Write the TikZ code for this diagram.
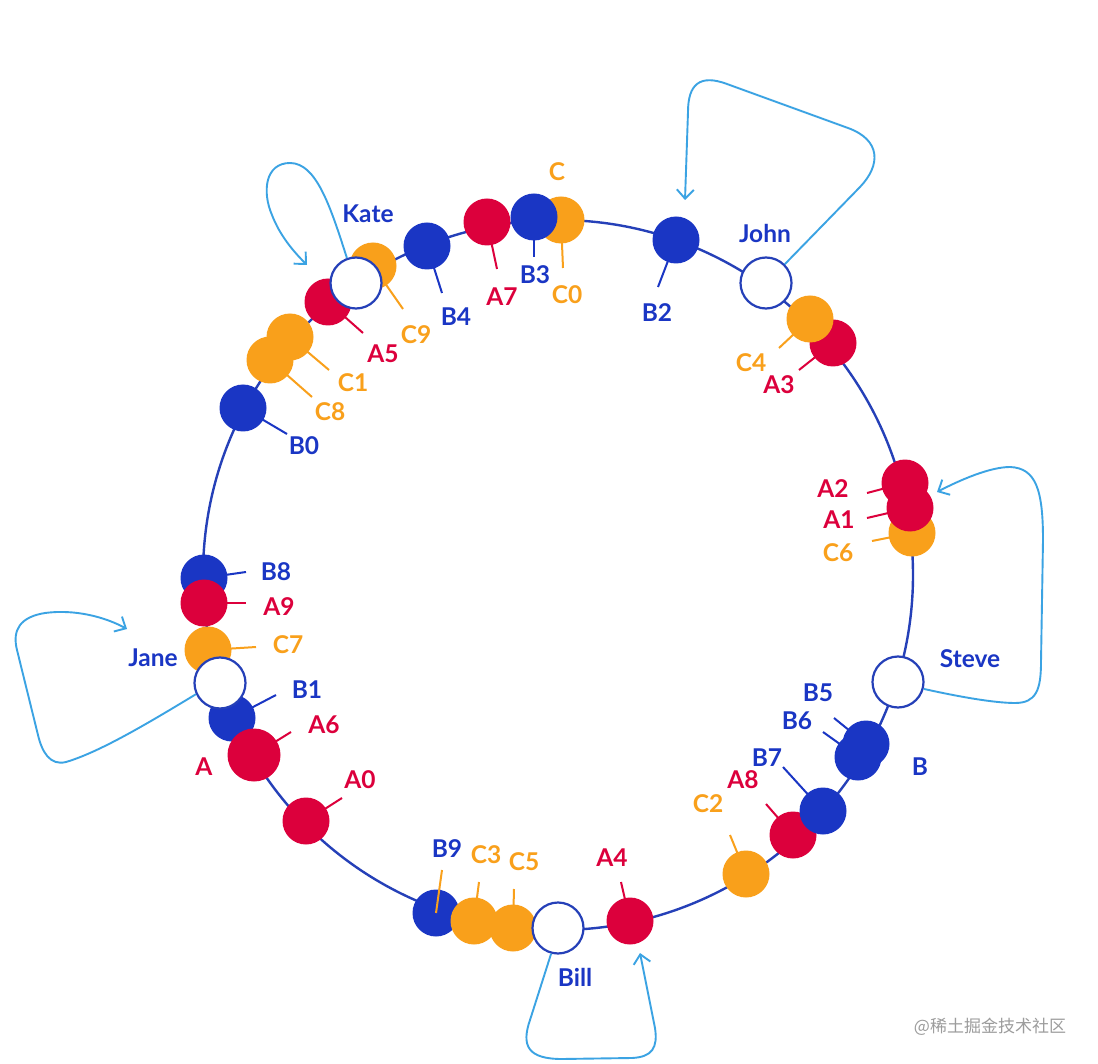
\documentclass[tikz,border=0pt]{standalone}
\usepackage{fontspec}
\setmainfont{Lato}
\newfontfamily\cjkfont{Noto Sans CJK SC}
\usetikzlibrary{arrows.meta,backgrounds}
\definecolor{dblue}{HTML}{1A36C4}
\definecolor{ringblue}{HTML}{2540B8}
\definecolor{dred}{HTML}{DC003C}
\definecolor{dorange}{HTML}{F9A01B}
\definecolor{lblue}{HTML}{3BA3E3}
\definecolor{wmgray}{HTML}{9C9C9C}
\begin{document}
\begin{tikzpicture}[x=1pt,y=-1pt,
  dot/.style={circle, minimum size=47pt, inner sep=0pt},
  bdot/.style={dot, fill=dblue},
  rdot/.style={dot, fill=dred},
  odot/.style={dot, fill=dorange},
  server/.style={circle, minimum size=51pt, inner sep=0pt, draw=ringblue, line width=2.2pt, fill=white},
  ring/.style={draw=ringblue, line width=2.4pt},
  btick/.style={draw=dblue, line width=2pt},
  rtick/.style={draw=dred, line width=2pt},
  otick/.style={draw=dorange, line width=2pt},
  lbl/.style={font=\fontsize{24.5}{27}\selectfont\bfseries, inner sep=0pt},
  blbl/.style={lbl, text=dblue},
  rlbl/.style={lbl, text=dred},
  olbl/.style={lbl, text=dorange},
  loopline/.style={draw=lblue, line width=1.9pt, -{Straight Barb[length=9pt,width=17pt]}}
]
\useasboundingbox (0,0) rectangle (1098,1064);

% ---------- dots (drawing order gives overlaps) ----------
\node[bdot] (B0) at (243,408) {};
\node[odot] (C8) at (270,360) {};
\node[odot] (C1) at (290,337) {};
\node[rdot] (A5) at (328,302) {};
\node[odot] (C9) at (373,266) {};
\node[server] (Kate) at (356,283) {};
\node[bdot] (B4) at (427,246) {};
\node[rdot] (A7) at (487,222) {};
\node[odot] (C0) at (561,220) {};
\node[bdot] (B3) at (534,217) {};
\node[bdot] (B2) at (676,240) {};
\node[server] (John) at (766,283) {};
\node[rdot] (A3) at (833,343) {};
\node[odot] (C4) at (810,319) {};
\node[odot] (C6) at (912,533) {};
\node[rdot] (A2) at (905,483) {};
\node[rdot] (A1) at (910,508) {};
\node[server] (Steve) at (898,682) {};
\node[bdot] (B6) at (858,757) {};
\node[bdot] (B5) at (866,744) {};
\node[odot] (C2) at (746,874) {};
\node[rdot] (A8) at (793,835) {};
\node[bdot] (B7) at (823,811) {};
\node[rdot] (A4) at (630,921) {};
\node[bdot] (B9) at (436,913) {};
\node[odot] (C3) at (474,921) {};
\node[odot] (C5) at (513,928) {};
\node[server] (Bill) at (558,928) {};
\node[rdot] (A0) at (306,821) {};
\node[bdot] (B1) at (232,718) {};
\node[rdot, minimum size=53pt] (A6) at (254,755) {};
\node[odot] (C7) at (208,650) {};
\node[server] (Jane) at (220,683) {};
\node[bdot] (B8) at (204,578) {};
\node[rdot] (A9) at (204,603) {};

% ---------- tick end points ----------
\coordinate (tB0) at (287,434);
\coordinate (tC8) at (312,397);
\coordinate (tC1) at (329,370);
\coordinate (tA5) at (363,333);
\coordinate (tC9) at (403,309);
\coordinate (tB4) at (442,293);
\coordinate (tA7) at (497,269);
\coordinate (tB3) at (534,257);
\coordinate (tC0) at (563,268);
\coordinate (tB2) at (658,287);
\coordinate (tC4) at (779,348);
\coordinate (tA3) at (799,370);
\coordinate (tA2) at (867,493);
\coordinate (tA1) at (867,518);
\coordinate (tC6) at (872,541);
\coordinate (tB5) at (834,718);
\coordinate (tB6) at (823,732);
\coordinate (tB7) at (783,767);
\coordinate (tA8) at (766,804);
\coordinate (tC2) at (730,835);
\coordinate (tA4) at (621,882);
\coordinate (tC5) at (514,889);
\coordinate (tC3) at (479,882);
\coordinate (tB9) at (442,870);
\coordinate (tA0) at (342,798);
\coordinate (tA6) at (291,732);
\coordinate (tB1) at (276,695);
\coordinate (tC7) at (256,647);
\coordinate (tA9) at (246,603);
\coordinate (tB8) at (246,572);

\begin{pgfonlayer}{background}
  \fill[white] (0,0) rectangle (1098,1064);
  \coordinate (ctr) at (558,575);
  \draw[ring] (ctr) circle[radius=355];
  \draw[btick] (B0.center) -- (tB0);
  \draw[otick] (C8.center) -- (tC8);
  \draw[otick] (C1.center) -- (tC1);
  \draw[rtick] (A5.center) -- (tA5);
  \draw[otick] (C9.center) -- (tC9);
  \draw[btick] (B4.center) -- (tB4);
  \draw[rtick] (A7.center) -- (tA7);
  \draw[btick] (B3.center) -- (tB3);
  \draw[otick] (C0.center) -- (tC0);
  \draw[btick] (B2.center) -- (tB2);
  \draw[otick] (C4.center) -- (tC4);
  \draw[rtick] (A3.center) -- (tA3);
  \draw[rtick] (A2.center) -- (tA2);
  \draw[rtick] (A1.center) -- (tA1);
  \draw[otick] (C6.center) -- (tC6);
  \draw[btick] (B5.center) -- (tB5);
  \draw[btick] (B6.center) -- (tB6);
  \draw[btick] (B7.center) -- (tB7);
  \draw[rtick] (A8.center) -- (tA8);
  \draw[otick] (C2.center) -- (tC2);
  \draw[rtick] (A4.center) -- (tA4);
  \draw[otick] (C5.center) -- (tC5);
  \draw[otick] (C3.center) -- (tC3);
  \draw[rtick] (A0.center) -- (tA0);
  \draw[rtick] (A6.center) -- (tA6);
  \draw[btick] (B1.center) -- (tB1);
  \draw[otick] (C7.center) -- (tC7);
  \draw[rtick] (A9.center) -- (tA9);
  \draw[btick] (B8.center) -- (tB8);
\end{pgfonlayer}
% B9 tick is drawn over its dot
\draw[otick] (tB9) -- (B9.center);

% ---------- labels ----------
\node[blbl] (lB0) at (304,446) {B0};
\node[olbl] (lC8) at (330,412) {C8};
\node[olbl] (lC1) at (353,383) {C1};
\node[rlbl] (lA5) at (383,354) {A5};
\node[olbl] (lC9) at (416,335) {C9};
\node[blbl] (lB4) at (456,317) {B4};
\node[rlbl] (lA7) at (502,297) {A7};
\node[blbl] (lB3) at (535,275) {B3};
\node[olbl] (lC0) at (567,295) {C0};
\node[olbl] (lC) at (557,172) {C};
\node[blbl] (lKate) at (368,214) {Kate};
\node[blbl] (lB2) at (657,313) {B2};
\node[blbl] (lJohn) at (765,233) {John};
\node[olbl] (lC4) at (751,363) {C4};
\node[rlbl] (lA3) at (779,385) {A3};
\node[rlbl] (lA2) at (833,489) {A2};
\node[rlbl] (lA1) at (839,520) {A1};
\node[olbl] (lC6) at (838,553) {C6};
\node[blbl] (lSteve) at (970,659) {Steve};
\node[blbl] (lB5) at (818,693) {B5};
\node[blbl] (lB6) at (797,721) {B6};
\node[blbl] (lB) at (920,767) {B};
\node[blbl] (lB7) at (767,758) {B7};
\node[rlbl] (lA8) at (743,780) {A8};
\node[olbl] (lC2) at (708,804) {C2};
\node[rlbl] (lA4) at (612,858) {A4};
\node[blbl] (lBill) at (575,977) {Bill};
\node[olbl] (lC5) at (524,862) {C5};
\node[olbl] (lC3) at (486,855) {C3};
\node[blbl] (lB9) at (447,849) {B9};
\node[rlbl] (lA0) at (360,780) {A0};
\node[rlbl] (lA) at (204,767) {A};
\node[rlbl] (lA6) at (324,725) {A6};
\node[blbl] (lB1) at (307,690) {B1};
\node[blbl] (lJane) at (153,658) {Jane};
\node[olbl] (lC7) at (288,645) {C7};
\node[rlbl] (lA9) at (279,607) {A9};
\node[blbl] (lB8) at (276,572) {B8};

% ---------- loops (arrow tips) ----------
\coordinate (kEnd) at (307,265);
\coordinate (jEnd) at (685,200);
\coordinate (sEnd) at (937,492);
\coordinate (bEnd) at (640,953);
\coordinate (nEnd) at (127,629);

\draw[loopline] (Kate.110) .. controls (330,205) and (316,163) .. (290,163)
  .. controls (265,163) and (262,192) .. (272,215)
  .. controls (280,236) and (294,252) .. (kEnd);
\draw[loopline] (John.45) -- (860,187) .. controls (881,165) and (881,140) .. (848,128)
  -- (727,84) .. controls (700,74) and (688,84) .. (688,112) -- (jEnd);
\draw[loopline] (Steve.-15) .. controls (960,697) and (995,703) .. (1015,703)
  .. controls (1036,703) and (1041,690) .. (1041,662) -- (1043,540)
  .. controls (1043,490) and (1036,468) .. (1010,467)
  .. controls (990,467) and (960,480) .. (sEnd);
\draw[loopline] (Bill.255) -- (530,1020) .. controls (521,1046) and (528,1059) .. (562,1059)
  -- (632,1058) .. controls (652,1057) and (658,1048) .. (655,1028) -- (bEnd);
\draw[loopline] (Jane.205) .. controls (150,722) and (100,752) .. (66,762)
  .. controls (50,766) and (42,752) .. (38,735) -- (17,650)
  .. controls (12,630) and (20,617) .. (45,613)
  .. controls (75,609) and (105,617) .. (nEnd);

% ---------- watermark ----------
\node[text=wmgray, font=\cjkfont\fontsize{17}{20}\selectfont, inner sep=0pt] (wm) at (990,1027) {@稀土掘金技术社区};
\end{tikzpicture}
\end{document}
